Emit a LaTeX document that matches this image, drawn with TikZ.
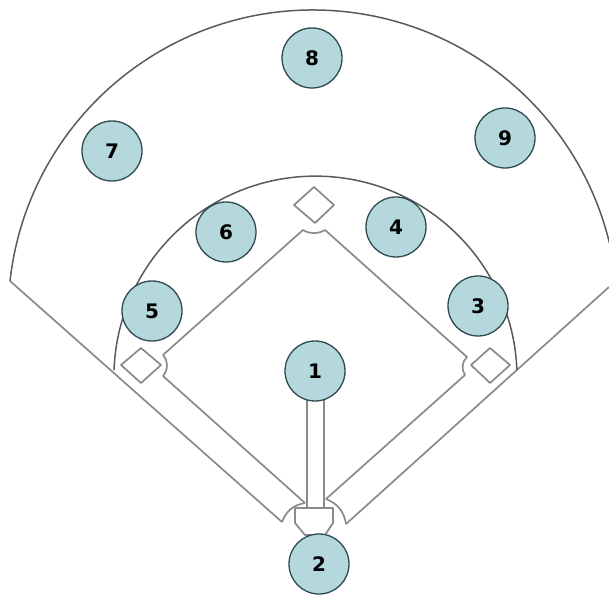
\documentclass[tikz,border=0pt]{standalone}
\usepackage{fontspec}
\setmainfont{DejaVu Sans}
\usepackage{xcolor}
\usepackage{tikz}
\definecolor{playerfill}{HTML}{B5D8DC}
\definecolor{playerline}{HTML}{2F4A50}
\definecolor{fieldline}{HTML}{8A8A8A}
\definecolor{arcline}{HTML}{5A5A5A}
\begin{document}
\begin{tikzpicture}[
    x=1pt, y=1pt,
    player/.style={draw=playerline, circle, fill=playerfill, line width=1.3pt, minimum size=60pt, inner sep=0pt, font=\fontsize{20}{20}\selectfont\bfseries},
    chalk/.style={draw=fieldline, line width=1.7pt, line join=round},
    wall/.style={draw=arcline, line width=1.5pt}
]
    \useasboundingbox (0,0) rectangle (609,594);

    % foul lines and outfield
    \coordinate (leftwall) at (10,313);
    \coordinate (rightwall) at (609,307);
    \coordinate (leftgap) at (282,72);
    \coordinate (rightgap) at (346,70);
    \draw [chalk] (leftwall) -- (leftgap);
    \draw [chalk] (rightwall) -- (rightgap);
    \draw [wall] (leftwall) arc[start angle=173.6, end angle=13.5, radius=305pt];
    \draw [wall] (114,224) arc[start angle=177.8, end angle=2.2, radius=201.6pt];

    % infield
    \coordinate (topleft) at (303,364);
    \coordinate (topright) at (325,364);
    \coordinate (leftup) at (163,239);
    \coordinate (leftdown) at (163,218);
    \coordinate (rightup) at (467,237);
    \coordinate (rightdown) at (465,219);
    \coordinate (homeleft) at (305,91);
    \coordinate (homeright) at (326,95);
    \draw [chalk] (leftup) -- (topleft) to[bend right=30] (topright) -- (rightup) to[bend right=40] (rightdown) -- (homeright);
    \draw [chalk] (leftup) to[bend left=40] (leftdown) -- (homeleft);
    \draw [chalk] (leftgap) to[bend left=30] (homeleft);
    \draw [chalk] (rightgap) to[bend right=30] (homeright);

    % bases
    \draw [chalk] (141,246) -- (161,229) -- (141,211) -- (121,229) -- cycle;
    \draw [chalk] (314,407) -- (334,389) -- (315,371) -- (294,389) -- cycle;
    \draw [chalk] (490,246) -- (510,229) -- (490,211) -- (471,229) -- cycle;

    % home plate and mound strip
    \draw [chalk] (295,86) -- (333,86) -- (333,71) -- (325,59) -- (305,59) -- (295,71) -- cycle;
    \draw [chalk] (307,86) -- (307,200);
    \draw [chalk] (324,86) -- (324,200);

    \node (p1) [player] at (315,223) {1};
    \node (p2) [player] at (319,30) {2};
    \node (p3) [player] at (478,288) {3};
    \node (p4) [player] at (396,367) {4};
    \node (p5) [player] at (152,283) {5};
    \node (p6) [player] at (226,362) {6};
    \node (p7) [player] at (112,443) {7};
    \node (p8) [player] at (312,536) {8};
    \node (p9) [player] at (505,456) {9};
\end{tikzpicture}
\end{document}
